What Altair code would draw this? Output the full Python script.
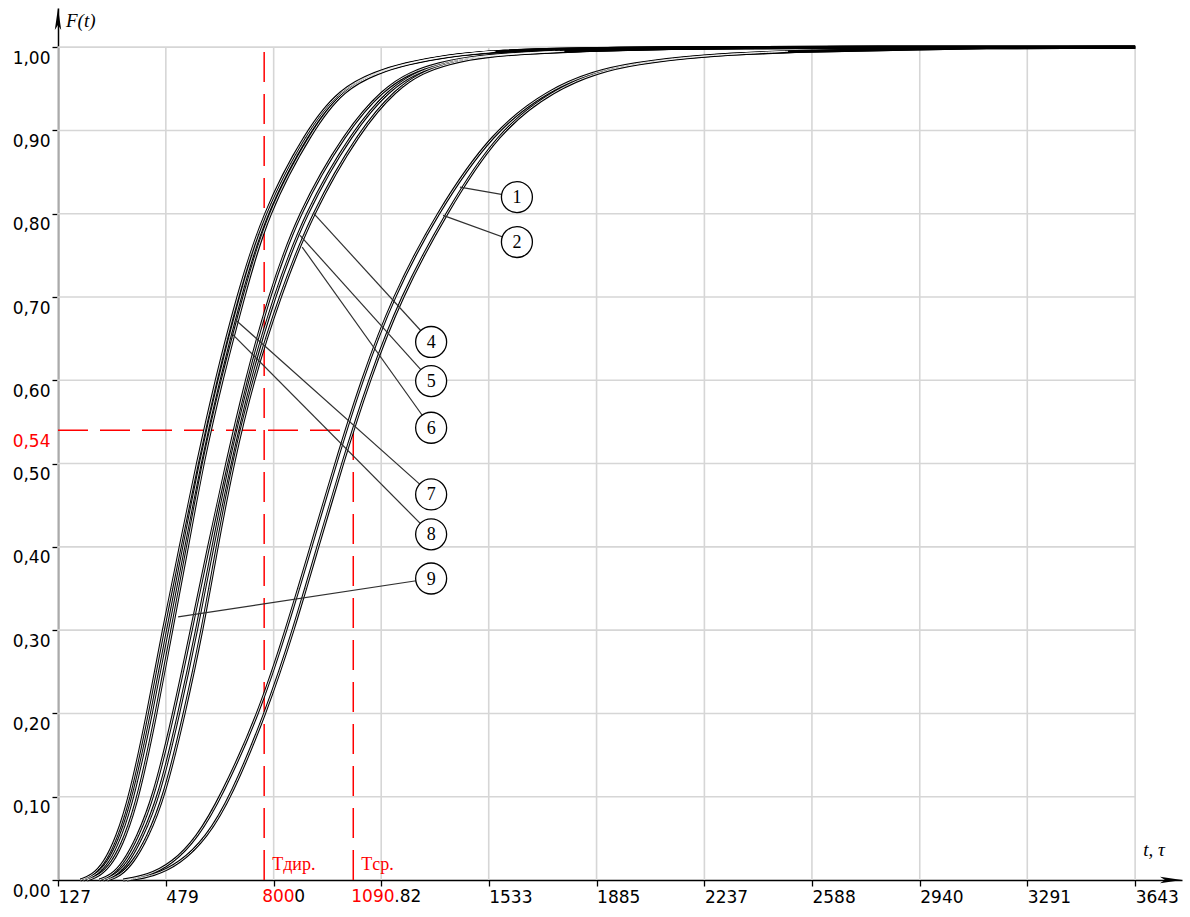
import altair as alt
import pandas as pd

# ---------------- data ----------------
X_TICKS = [127, 479, 831, 1182, 1533, 1885, 2237, 2588, 2940, 3291, 3643]
Y_TICKS = [0.0, 0.1, 0.2, 0.3, 0.4, 0.5, 0.6, 0.7, 0.8, 0.9, 1.0]
X_MIN = 127
X_END = 3643
X_MAX = 3796
Y_MAX = 1.047

T_DIR = 800
T_SR = 1090.82
F_MARK = 0.54

F_LEVELS = [0, 0.005, 0.02, 0.05, 0.1, 0.2, 0.3, 0.4, 0.5, 0.6, 0.7, 0.8, 0.9,
            0.95, 0.97, 0.98, 0.99, 0.995, 1.0]

CURVE_T = {
    "1": [340, 420, 500, 580, 660, 783, 872, 953, 1033, 1118, 1220, 1362, 1547, 1735, 1875, 1995, 2215, 2500, 3200],
    "2": [352, 440, 525, 610, 692, 805, 896, 975, 1055, 1142, 1246, 1392, 1565, 1752, 1890, 2008, 2228, 2510, 3200],
    "4": [288, 328, 370, 418, 474, 540, 598, 646, 698, 763, 850, 955, 1112, 1232, 1318, 1398, 1520, 1780, 2200],
    "5": [275, 313, 355, 400, 457, 522, 580, 632, 688, 751, 832, 932, 1090, 1210, 1300, 1382, 1505, 1765, 2200],
    "6": [262, 300, 340, 385, 440, 505, 562, 618, 677, 740, 815, 910, 1068, 1190, 1280, 1365, 1490, 1750, 2200],
    "7": [222, 262, 304, 345, 390, 448, 498, 550, 599, 661, 733, 809, 955, 1060, 1175, 1265, 1405, 1555, 1900],
    "8": [210, 248, 290, 330, 374, 433, 484, 538, 590, 651, 721, 801, 945, 1053, 1170, 1260, 1400, 1550, 1900],
    "9": [200, 238, 278, 318, 362, 420, 470, 526, 581, 642, 712, 795, 938, 1048, 1165, 1255, 1395, 1545, 1900],
}

LABEL_IDS = ["1", "2", "4", "5", "6", "7", "8", "9"]
LABEL_T = [1625, 1625, 1345, 1345, 1345, 1345, 1345, 1345]
LABEL_F = [0.820, 0.766, 0.646, 0.599, 0.543, 0.463, 0.415, 0.362]
LEADER_T = [1439, 1384, 960, 917, 924, 708, 692, 519]
LEADER_F = [0.832, 0.798, 0.801, 0.774, 0.760, 0.672, 0.657, 0.316]

# ---------------- tables ----------------
rows = []
for cid, ts in CURVE_T.items():
    for t, f in zip(ts, F_LEVELS):
        rows.append({"curve": cid, "t": t, "F": f})
    rows.append({"curve": cid, "t": X_END, "F": 1.0})
curves = pd.DataFrame(rows)
curves_core = curves[curves["F"] < 0.999]

xgrid = pd.DataFrame({"t": X_TICKS, "f0": 0.0, "f1": 1.0})
ygrid = pd.DataFrame({"F": Y_TICKS[1:], "t0": X_MIN, "t1": X_END})
labels = pd.DataFrame({"id": LABEL_IDS, "t": LABEL_T, "F": LABEL_F,
                       "t0": LEADER_T, "F0": LEADER_F})

red_v = pd.DataFrame({"t": [T_DIR, T_SR], "f0": [0.0, 0.0], "f1": [1.0, F_MARK]})
red_h = pd.DataFrame({"F": [F_MARK], "t0": [X_MIN], "t1": [T_SR]})

XS = alt.Scale(domain=[X_MIN, X_MAX], nice=False, zero=False)
YS = alt.Scale(domain=[0, Y_MAX], nice=False, zero=False)

FONT = "DejaVu Sans"
SERIF = "Liberation Serif"

XAXIS = alt.Axis(
    values=X_TICKS, title=None, grid=False,
    labelExpr="(datum.value == 831 || datum.value == 1182) ? '' : format(datum.value, 'd')",
    labelAlign="left", labelBaseline="top", labelPadding=3,
    labelFont=FONT, labelFontSize=17, labelColor="black",
    labelFlush=False, labelOverlap=False,
    tickSize=6, tickColor="black", tickWidth=1.3,
    domainColor="black", domainWidth=1.5,
)
YAXIS = alt.Axis(
    values=Y_TICKS + [F_MARK], title=None, grid=False,
    labelExpr="replace(format(datum.value, '.2f'), '.', ',')",
    labelAlign="right", labelBaseline="top", labelOffset=3, labelPadding=2,
    labelFont=FONT, labelFontSize=17,
    labelColor={"condition": {"test": "datum.value == 0.54", "value": "#ff0000"}, "value": "black"},
    tickColor={"condition": {"test": "datum.value == 0.54", "value": "transparent"}, "value": "black"},
    labelFlush=False, labelOverlap=False,
    tickSize=6, tickWidth=1.3,
    domainColor="black", domainWidth=1.5,
)


def X(field):
    return alt.X(field, type="quantitative", scale=XS, axis=XAXIS)


def Y(field):
    return alt.Y(field, type="quantitative", scale=YS, axis=YAXIS)


grid_v = alt.Chart(xgrid).mark_rule(color="#d6d6d6", strokeWidth=1.6).encode(
    x=X("t"), y=Y("f0"), y2="f1")
grid_h = alt.Chart(ygrid).mark_rule(color="#d6d6d6", strokeWidth=1.6).encode(
    y=Y("F"), x=X("t0"), x2="t1")

red_vl = alt.Chart(red_v).mark_rule(color="#ff0000", strokeWidth=1.5, strokeDash=[30, 12]).encode(
    x=X("t"), y=Y("f0"), y2="f1")
red_hl = alt.Chart(red_h).mark_rule(color="#ff0000", strokeWidth=1.5, strokeDash=[30, 12]).encode(
    y=Y("F"), x=X("t0"), x2="t1")

line_black = alt.Chart(curves).mark_line(
    interpolate="basis", color="black", strokeWidth=3.0).encode(
    x=X("t"), y=Y("F"), detail="curve:N", order="F:Q")
line_white = alt.Chart(curves_core).mark_line(
    interpolate="basis", color="white", strokeWidth=0.9).encode(
    x=X("t"), y=Y("F"), detail="curve:N", order="F:Q")

leaders = alt.Chart(labels).mark_rule(color="#303030", strokeWidth=1.2).encode(
    x=X("t0"), y=Y("F0"), x2="t", y2="F")
circles = alt.Chart(labels).mark_point(
    shape="circle", size=960, filled=True, fill="white", stroke="black",
    strokeWidth=1.3, opacity=1).encode(x=X("t"), y=Y("F"))
circle_text = alt.Chart(labels).mark_text(
    font=SERIF, fontSize=18, color="black", baseline="middle", align="center", dy=1).encode(
    x=X("t"), y=Y("F"), text="id:N")

# annotation texts
red_ticks = pd.DataFrame({"t": [T_DIR, T_SR], "F": [0.0, 0.0], "txt": ["800", "1090"]})
blk_ticks = pd.DataFrame({"t": [T_DIR, T_SR], "F": [0.0, 0.0], "txt": ["0", ".82"]})
red_tick_text = alt.Chart(red_ticks).mark_text(
    font=FONT, fontSize=17, color="#ff0000", align="left", baseline="top", dy=9, dx=-2).encode(
    x=X("t"), y=Y("F"), text="txt:N")
blk_tick_text0 = alt.Chart(blk_ticks.iloc[[0]]).mark_text(
    font=FONT, fontSize=17, color="black", align="left", baseline="top", dy=9, dx=30).encode(
    x=X("t"), y=Y("F"), text="txt:N")
blk_tick_text1 = alt.Chart(blk_ticks.iloc[[1]]).mark_text(
    font=FONT, fontSize=17, color="black", align="left", baseline="top", dy=9, dx=41).encode(
    x=X("t"), y=Y("F"), text="txt:N")

t_names = pd.DataFrame({"t": [T_DIR, T_SR], "F": [0.0, 0.0], "txt": ["Tдир.", "Tср."]})
t_name_text = alt.Chart(t_names).mark_text(
    font=SERIF, fontSize=18, color="#ff0000", align="left", baseline="alphabetic",
    dx=8, dy=-10).encode(x=X("t"), y=Y("F"), text="txt:N")

axis_names = pd.DataFrame({"t": [X_MIN, X_END], "F": [Y_MAX, 0.0], "txt": ["F(t)", "t, τ"]})
yname = alt.Chart(axis_names.iloc[[0]]).mark_text(
    font=SERIF, fontSize=19, fontStyle="italic", color="black", align="left",
    baseline="top", dx=8, dy=4).encode(x=X("t"), y=Y("F"), text="txt:N")
xname = alt.Chart(axis_names.iloc[[1]]).mark_text(
    font=SERIF, fontSize=19, fontStyle="italic", color="black", align="left",
    baseline="alphabetic", dx=8, dy=-24).encode(x=X("t"), y=Y("F"), text="txt:N")

arrows_x = pd.DataFrame({"t": [X_MAX], "F": [0.0]})
arrows_y = pd.DataFrame({"t": [X_MIN], "F": [Y_MAX]})
arrow_x = alt.Chart(arrows_x).mark_point(
    shape="M0,0L-2.2,-0.32L-1.7,0L-2.2,0.32Z", size=400, filled=True, color="black",
    opacity=1).encode(x=X("t"), y=Y("F"))
arrow_y = alt.Chart(arrows_y).mark_point(
    shape="M0,0L0.32,2.2L0,1.7L-0.32,2.2Z", size=400, filled=True, color="black",
    opacity=1).encode(x=X("t"), y=Y("F"))

chart = alt.layer(
    grid_v, grid_h, red_vl, red_hl, line_black, line_white, leaders, circles, circle_text,
    red_tick_text, blk_tick_text0, blk_tick_text1, t_name_text, yname, xname, arrow_x, arrow_y,
).properties(
    width=1124, height=872,
    autosize=alt.AutoSizeParams(type="none"),
    padding={"left": 58, "top": 8, "right": 8, "bottom": 37},
    background="white",
).configure_view(stroke=None)

chart.save("out.html", embed_options={"renderer": "svg", "actions": False})
